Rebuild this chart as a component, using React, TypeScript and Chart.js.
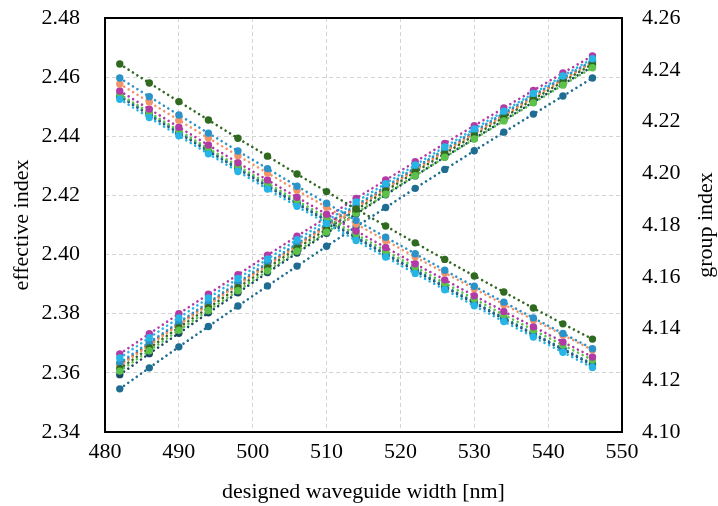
import React, { useEffect, useRef } from "react";
import { Chart, registerables } from "chart.js";

Chart.register(...registerables);

const widths = [482, 486, 490, 494, 498, 502, 506, 510, 514, 518, 522, 526, 530, 534, 538, 542, 546];

// effective index (left axis)
const neffMagenta = [2.3664, 2.3732, 2.3800, 2.3866, 2.3932, 2.3998, 2.4062, 2.4126, 2.4190, 2.4252, 2.4314, 2.4376, 2.4436, 2.4496, 2.4555, 2.4614, 2.4672];
const neffCyan = [2.3650, 2.3719, 2.3786, 2.3853, 2.3919, 2.3985, 2.4050, 2.4114, 2.4178, 2.4240, 2.4303, 2.4364, 2.4425, 2.4485, 2.4545, 2.4604, 2.4662];
const neffBrown = [2.3628, 2.3697, 2.3766, 2.3833, 2.3901, 2.3967, 2.4032, 2.4098, 2.4162, 2.4225, 2.4289, 2.4351, 2.4412, 2.4473, 2.4534, 2.4593, 2.4652];
const neffOrange = [2.3624, 2.3693, 2.3762, 2.3829, 2.3897, 2.3963, 2.4028, 2.4094, 2.4158, 2.4221, 2.4285, 2.4347, 2.4408, 2.4469, 2.4530, 2.4590, 2.4649];
const neffBlue = [2.3634, 2.3703, 2.3771, 2.3838, 2.3906, 2.3972, 2.4037, 2.4103, 2.4167, 2.4230, 2.4294, 2.4356, 2.4417, 2.4478, 2.4539, 2.4598, 2.4656];
const neffDarkGreen = [2.3614, 2.3684, 2.3753, 2.3820, 2.3888, 2.3955, 2.4021, 2.4086, 2.4151, 2.4215, 2.4279, 2.4341, 2.4403, 2.4464, 2.4525, 2.4585, 2.4644];
const neffLightGreen = [2.3606, 2.3675, 2.3744, 2.3811, 2.3878, 2.3945, 2.4011, 2.4076, 2.4140, 2.4204, 2.4267, 2.4329, 2.4391, 2.4452, 2.4513, 2.4573, 2.4632];
const neffNavy = [2.3594, 2.3665, 2.3734, 2.3803, 2.3871, 2.3939, 2.4005, 2.4072, 2.4137, 2.4202, 2.4266, 2.4330, 2.4392, 2.4454, 2.4516, 2.4576, 2.4636];
const neffTeal = [2.3546, 2.3617, 2.3688, 2.3757, 2.3826, 2.3894, 2.3961, 2.4028, 2.4094, 2.4159, 2.4224, 2.4288, 2.4351, 2.4414, 2.4475, 2.4536, 2.4597];

// group index (right axis)
const ngDarkGreen = [4.2422, 4.2349, 4.2277, 4.2206, 4.2135, 4.2066, 4.1997, 4.1929, 4.1862, 4.1796, 4.1731, 4.1667, 4.1603, 4.1541, 4.1479, 4.1418, 4.1359];
const ngBlue = [4.2368, 4.2296, 4.2225, 4.2155, 4.2086, 4.2018, 4.1950, 4.1884, 4.1818, 4.1753, 4.1689, 4.1625, 4.1563, 4.1502, 4.1441, 4.1381, 4.1322];
const ngOrange = [4.2345, 4.2275, 4.2205, 4.2136, 4.2068, 4.2001, 4.1934, 4.1869, 4.1804, 4.1740, 4.1677, 4.1615, 4.1554, 4.1493, 4.1434, 4.1375, 4.1317];
const ngMagenta = [4.2318, 4.2248, 4.2178, 4.2109, 4.2041, 4.1974, 4.1907, 4.1842, 4.1777, 4.1713, 4.1650, 4.1588, 4.1527, 4.1466, 4.1407, 4.1348, 4.1290];
const ngLightGreen = [4.2305, 4.2235, 4.2165, 4.2096, 4.2028, 4.1961, 4.1894, 4.1829, 4.1764, 4.1700, 4.1637, 4.1575, 4.1514, 4.1453, 4.1394, 4.1336, 4.1278];
const ngTeal = [4.2300, 4.2229, 4.2159, 4.2089, 4.2021, 4.1953, 4.1886, 4.1820, 4.1754, 4.1690, 4.1627, 4.1564, 4.1502, 4.1441, 4.1381, 4.1322, 4.1263];
const ngNavy = [4.2296, 4.2225, 4.2155, 4.2085, 4.2017, 4.1949, 4.1882, 4.1816, 4.1750, 4.1686, 4.1623, 4.1560, 4.1498, 4.1437, 4.1377, 4.1318, 4.1259];
const ngCyan = [4.2286, 4.2215, 4.2145, 4.2075, 4.2007, 4.1939, 4.1872, 4.1806, 4.1740, 4.1676, 4.1613, 4.1550, 4.1488, 4.1427, 4.1367, 4.1308, 4.1249];

const leftTicks = [2.34, 2.36, 2.38, 2.40, 2.42, 2.44, 2.46, 2.48];
const rightTicks = [4.10, 4.12, 4.14, 4.16, 4.18, 4.20, 4.22, 4.24, 4.26];
const xTicks = [480, 490, 500, 510, 520, 530, 540, 550];

const C = {
  darkGreen: "#2f6a20",
  blue: "#2a93c9",
  orange: "#f2946a",
  magenta: "#b23aa6",
  lightGreen: "#5cc24a",
  cyan: "#27b5e5",
  navy: "#1b4862",
  teal: "#1f6d92",
  brown: "#a5501c",
};

const FONT = "'Liberation Serif', 'Times New Roman', serif";

function ds(values: number[], color: string, axis: string) {
  return {
    data: widths.map((w, i) => ({ x: w, y: values[i] })),
    yAxisID: axis,
    borderColor: color,
    backgroundColor: color,
    borderWidth: 2.6,
    borderDash: [0.01, 5.2],
    borderCapStyle: "round" as const,
    pointRadius: 3.7,
    pointBorderWidth: 0,
    pointBackgroundColor: color,
    tension: 0,
    fill: false,
  };
}

const framePlugin = {
  id: "frame",
  afterDatasetsDraw(chart: any) {
    const { ctx, chartArea } = chart;
    ctx.save();
    ctx.strokeStyle = "#000";
    ctx.lineWidth = 2;
    ctx.strokeRect(chartArea.left, chartArea.top, chartArea.right - chartArea.left, chartArea.bottom - chartArea.top);
    // right axis title, rotated like the left one
    ctx.fillStyle = "#000";
    ctx.font = "22px " + FONT;
    ctx.translate(712, (chartArea.top + chartArea.bottom) / 2);
    ctx.rotate(-Math.PI / 2);
    ctx.textAlign = "center";
    ctx.textBaseline = "alphabetic";
    ctx.fillText("group index", 0, 0);
    ctx.restore();
  },
};

export default function App() {
  const ref = useRef<HTMLCanvasElement | null>(null);
  useEffect(() => {
    document.body.style.margin = "0";
    const canvas = ref.current!;
    const chart = new Chart(canvas, {
      type: "line",
      data: {
        datasets: [
          ds(ngDarkGreen, C.darkGreen, "y1"),
          ds(ngBlue, C.blue, "y1"),
          ds(ngOrange, C.orange, "y1"),
          ds(ngMagenta, C.magenta, "y1"),
          ds(ngCyan, C.cyan, "y1"),
          ds(ngLightGreen, C.lightGreen, "y1"),
          ds(ngTeal, C.teal, "y1"),
          ds(ngNavy, C.navy, "y1"),
          ds(neffTeal, C.teal, "y"),
          ds(neffCyan, C.cyan, "y"),
          ds(neffLightGreen, C.lightGreen, "y"),
          ds(neffDarkGreen, C.darkGreen, "y"),
          ds(neffBlue, C.blue, "y"),
          ds(neffOrange, C.orange, "y"),
          ds(neffBrown, C.brown, "y"),
          ds(neffNavy, C.navy, "y"),
          ds(neffMagenta, C.magenta, "y"),
        ] as any,
      },
      options: {
        animation: false,
        responsive: false,
        maintainAspectRatio: false,
        layout: { padding: { top: 18, left: 0, right: 0, bottom: 0 } },
        plugins: { legend: { display: false }, tooltip: { enabled: false } },
        scales: {
          x: {
            type: "linear",
            min: 480,
            max: 550,
            afterBuildTicks: (s: any) => { s.ticks = xTicks.map((v) => ({ value: v })); },
            afterFit: (s: any) => { s.height = 74; s.paddingLeft = 0; s.paddingRight = 0; },
            grid: { color: "#d4d4d4", lineWidth: 1, drawTicks: false },
            border: { display: false, dash: [4, 3] },
            ticks: { color: "#000", padding: 7, font: { family: FONT, size: 22 }, callback: (v: any) => String(v) },
            title: { display: true, text: "designed waveguide width [nm]", color: "#000", font: { family: FONT, size: 22 }, padding: { top: 0, bottom: 1 } },
          },
          y: {
            type: "linear",
            position: "left",
            min: 2.34,
            max: 2.48,
            afterBuildTicks: (s: any) => { s.ticks = leftTicks.map((v) => ({ value: v })); },
            afterFit: (s: any) => { s.width = 105; s.paddingTop = 0; s.paddingBottom = 0; },
            grid: { color: "#d4d4d4", lineWidth: 1, drawTicks: false },
            border: { display: false, dash: [4, 3] },
            ticks: { color: "#000", padding: 25, font: { family: FONT, size: 22 }, callback: (v: any) => Number(v).toFixed(2) },
            title: { display: true, text: "effective index", color: "#000", font: { family: FONT, size: 22 }, padding: { top: 9, bottom: 0 } },
          },
          y1: {
            type: "linear",
            position: "right",
            min: 4.10,
            max: 4.26,
            afterBuildTicks: (s: any) => { s.ticks = rightTicks.map((v) => ({ value: v })); },
            afterFit: (s: any) => { s.width = 96; s.paddingTop = 0; s.paddingBottom = 0; },
            grid: { display: false, drawTicks: false },
            border: { display: false },
            ticks: { color: "#000", padding: 20, font: { family: FONT, size: 22 }, callback: (v: any) => Number(v).toFixed(2) },
            title: { display: false },
          },
        },
      } as any,
      plugins: [framePlugin],
    });
    return () => chart.destroy();
  }, []);
  return (
    <div style={{ width: 718, height: 506, background: "#fff" }}>
      <canvas ref={ref} width={718} height={506} style={{ display: "block", width: 718, height: 506 }} />
    </div>
  );
}
